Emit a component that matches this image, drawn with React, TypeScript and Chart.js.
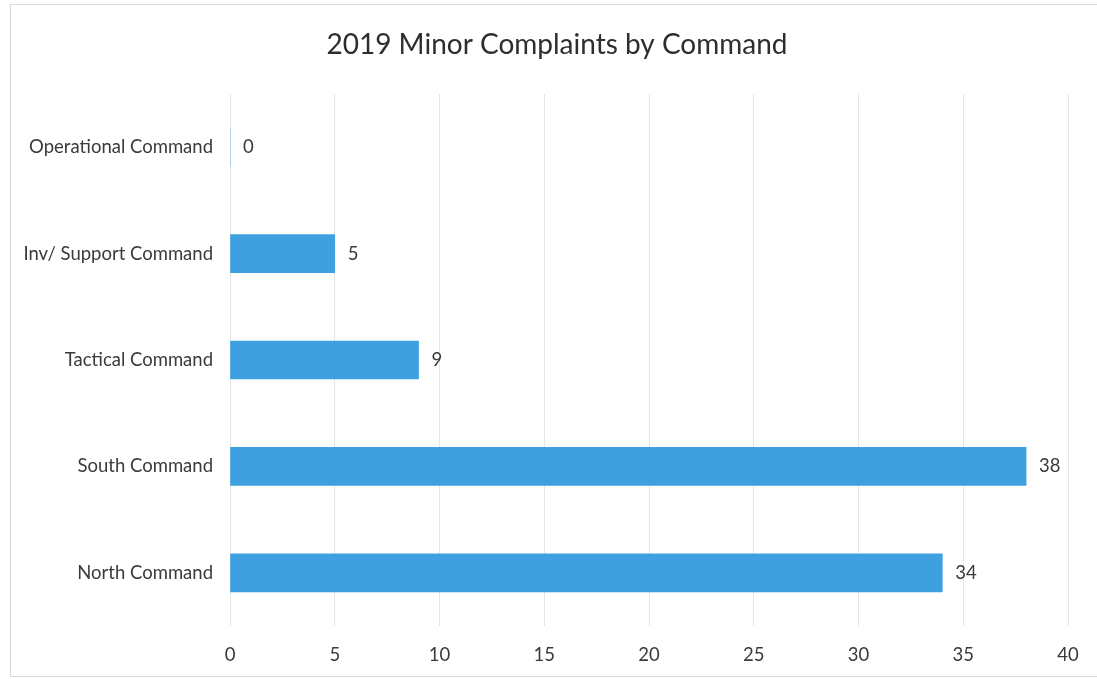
import React, { useEffect, useRef } from "react";
import { Chart, registerables } from "chart.js";

Chart.register(...registerables);

const categories = [
  "Operational Command",
  "Inv/ Support Command",
  "Tactical Command",
  "South Command",
  "North Command",
];
const complaints = [0, 5, 9, 38, 34];
const xMin = 0;
const xMax = 40;
const xStep = 5;
const chartTitle = "2019 Minor Complaints by Command";

const FONT = "Lato, 'Open Sans', sans-serif";
const TEXT = "#3a3a3a";

const valueLabels = {
  id: "valueLabels",
  afterDatasetsDraw(chart: any) {
    const ctx = chart.ctx;
    const meta = chart.getDatasetMeta(0);
    ctx.save();
    ctx.font = `18.5px ${FONT}`;
    ctx.fillStyle = TEXT;
    ctx.textAlign = "left";
    ctx.textBaseline = "middle";
    meta.data.forEach((bar: any, i: number) => {
      const v = chart.data.datasets[0].data[i];
      ctx.fillText(String(v), bar.x + 13, bar.y);
    });
    ctx.restore();
  },
};

const frame = {
  id: "frame",
  beforeDraw(chart: any) {
    const ctx = chart.ctx;
    ctx.save();
    ctx.fillStyle = "#ffffff";
    ctx.fillRect(0, 0, chart.width, chart.height);
    ctx.strokeStyle = "#d9d9d9";
    ctx.lineWidth = 1;
    ctx.strokeRect(10.5, 4.5, chart.width + 20, chart.height - 7);
    ctx.restore();
  },
  afterDraw(chart: any) {
    const ctx = chart.ctx;
    ctx.save();
    ctx.font = `28px ${FONT}`;
    ctx.fillStyle = "#2e2e2e";
    ctx.textAlign = "center";
    ctx.textBaseline = "middle";
    ctx.fillText(chartTitle, 557, 45);
    ctx.restore();
  },
};

export default function App() {
  const ref = useRef<HTMLCanvasElement | null>(null);
  useEffect(() => {
    document.body.style.margin = "0";
    if (!ref.current) return;
    const chart = new Chart(ref.current, {
      type: "bar",
      data: {
        labels: categories,
        datasets: [
          {
            data: complaints,
            backgroundColor: "#3fa0e0",
            borderWidth: 0,
            barThickness: 38,
          },
        ],
      },
      plugins: [frame, valueLabels],
      options: {
        indexAxis: "y",
        animation: false,
        responsive: false,
        maintainAspectRatio: false,
        layout: { padding: { left: 0, right: 29, top: 94, bottom: 0 } },
        plugins: {
          legend: { display: false },
          tooltip: { enabled: false },
          title: { display: false },
        },
        scales: {
          x: {
            min: xMin,
            max: xMax,
            afterFit(scale: any) {
              scale.height = 53;
            },
            ticks: {
              stepSize: xStep,
              color: TEXT,
              padding: 18,
              maxRotation: 0,
              font: { family: FONT, size: 18.5 },
            },
            grid: { color: "#e6e6e6", drawTicks: false },
            border: { display: false },
          },
          y: {
            afterFit(scale: any) {
              scale.width = 230;
            },
            ticks: {
              color: TEXT,
              padding: 9,
              font: { family: FONT, size: 18.5 },
            },
            grid: { display: false },
            border: { display: false },
          },
        },
      },
    } as any);
    return () => chart.destroy();
  }, []);
  return <canvas ref={ref} width={1097} height={679} style={{ display: "block" }} />;
}
